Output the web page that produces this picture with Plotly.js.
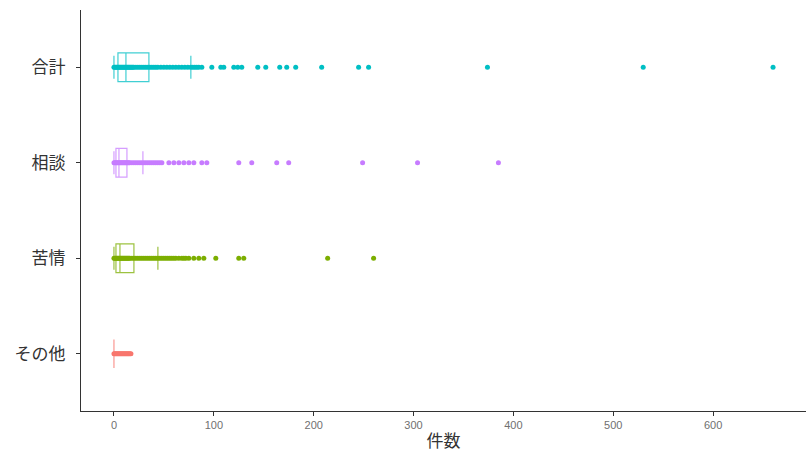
<!DOCTYPE html>
<html>
<head>
<meta charset="utf-8">
<script src="https://cdn.plot.ly/plotly-3.0.1.min.js"></script>
<style>html,body{margin:0;padding:0;background:#fff;}#chart{width:811px;height:454px;}</style>
</head>
<body>
<div id="chart"></div>
<script>
// Categories (bottom to top)
const categories = ['その他', '苦情', '相談', '合計'];
const colors = ['#F8766D', '#7CAE00', '#C77CFF', '#00BFC4'];

// Box statistics
const lowerFence = [0, 0, 0, 0];
const q1Values = [0, 2, 2, 4];
const medianValues = [0, 6, 5, 12];
const q3Values = [0, 20, 13, 35];
const upperFence = [0, 44, 29, 77];

// Visible individual points per category
const pointsOther = [0, 1, 2, 3, 4, 5, 6, 7, 8, 9, 10, 11, 12, 13, 14, 15, 16, 17];
const pointsComplaint = [0, 1, 2, 3, 4, 5, 6, 7, 8, 9, 10, 11, 12, 13, 14, 15, 16, 18, 20, 22, 24, 26, 28, 30, 32, 34, 36, 38, 40, 42, 44, 46, 48, 50, 52, 54, 56, 58, 60, 62, 65, 68, 70, 72, 75, 80, 85, 90, 102, 125, 130, 214, 260];
const pointsConsult = [0, 1, 2, 3, 4, 5, 6, 7, 8, 9, 10, 11, 12, 13, 14, 15, 16, 18, 20, 22, 24, 26, 28, 30, 32, 34, 36, 38, 40, 42, 44, 46, 48, 55, 60, 65, 70, 75, 80, 88, 93, 125, 138, 163, 175, 249, 304, 385];
const pointsTotal = [0, 1, 2, 3, 4, 5, 6, 7, 8, 9, 10, 11, 12, 13, 14, 15, 16, 17, 18, 19, 20, 22, 24, 26, 28, 30, 32, 34, 36, 38, 40, 42, 44, 47, 50, 53, 56, 59, 62, 65, 68, 71, 74, 77, 79, 81, 83, 85, 88, 98, 107, 110, 120, 124, 128, 144, 152, 166, 173, 182, 208, 245, 255, 374, 530, 660];

const pointSets = [pointsOther, pointsComplaint, pointsConsult, pointsTotal];

// Tick values for x axis
const xTicks = [0, 100, 200, 300, 400, 500, 600];

function hexToRgba(hex, a) {
  const r = parseInt(hex.slice(1, 3), 16), g = parseInt(hex.slice(3, 5), 16), b = parseInt(hex.slice(5, 7), 16);
  return 'rgba(' + r + ',' + g + ',' + b + ',' + a + ')';
}

const traces = [];
categories.forEach((cat, i) => {
  traces.push({
    type: 'scatter',
    mode: 'markers',
    x: pointSets[i],
    y: pointSets[i].map(() => cat),
    marker: { color: colors[i], size: 5, line: { width: 0 } },
    hoverinfo: 'x',
    showlegend: false
  });
});
categories.forEach((cat, i) => {
  traces.push({
    type: 'box',
    orientation: 'h',
    y: [cat],
    q1: [q1Values[i]],
    median: [medianValues[i]],
    q3: [q3Values[i]],
    lowerfence: [lowerFence[i]],
    upperfence: [upperFence[i]],
    boxpoints: false,
    width: 0.3,
    whiskerwidth: 0.8,
    fillcolor: 'rgba(0,0,0,0)',
    line: { color: hexToRgba(colors[i], 0.75), width: 1.2 },
    showlegend: false
  });
});

const layout = {
  width: 811,
  height: 454,
  margin: { l: 81, r: 5, t: 10, b: 43 },
  paper_bgcolor: '#fff',
  plot_bgcolor: '#fff',
  showlegend: false,
  boxmode: 'overlay',
  xaxis: {
    range: [-33, 693],
    tickvals: xTicks,
    ticktext: xTicks.map(String),
    ticks: 'outside',
    ticklen: 4,
    tickcolor: '#333',
    tickwidth: 1,
    showline: true,
    linecolor: '#333',
    linewidth: 1,
    showgrid: false,
    zeroline: false,
    tickfont: { family: 'Liberation Sans Narrow, Liberation Sans, Arial, sans-serif', size: 11, color: '#707070' },
    title: { text: '件数', font: { family: 'Noto Sans CJK JP, sans-serif', size: 17, color: '#333' }, standoff: 4 }
  },
  yaxis: {
    type: 'category',
    categoryorder: 'array',
    categoryarray: categories,
    range: [-0.6, 3.6],
    ticks: 'outside',
    ticklen: 4,
    tickcolor: '#333',
    tickwidth: 1,
    showline: true,
    linecolor: '#333',
    linewidth: 1,
    showgrid: false,
    zeroline: false,
    ticklabelstandoff: 7,
    tickfont: { family: 'Noto Sans CJK JP, sans-serif', size: 17, color: '#333' }
  }
};

Plotly.newPlot('chart', traces, layout, { displayModeBar: false, staticPlot: true });
</script>
</body>
</html>
